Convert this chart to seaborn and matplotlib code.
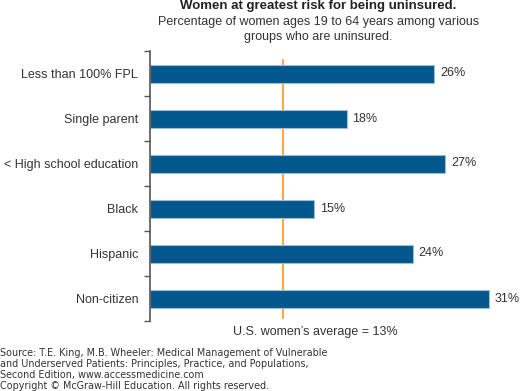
import matplotlib
matplotlib.use("Agg")
import matplotlib.pyplot as plt
import seaborn as sns
import pandas as pd

categories = ["Less than 100% FPL", "Single parent", "< High school education",
              "Black", "Hispanic", "Non-citizen"]
values = [26, 18, 27, 15, 24, 31]
value_labels = ["26%", "18%", "27%", "15%", "24%", "31%"]
avg_position = 12.2
avg_label = "U.S. women\u2019s average = 13%"
title = "Women at greatest risk for being uninsured."
subtitle = "Percentage of women ages 19 to 64 years among various\ngroups who are uninsured."
source = ("Source: T.E. King, M.B. Wheeler: Medical Management of Vulnerable\n"
          "and Underserved Patients: Principles, Practice, and Populations,\n"
          "Second Edition, www.accessmedicine.com\n"
          "Copyright \u00a9 McGraw-Hill Education. All rights reserved.")

sns.set_style("white")
plt.rcParams['font.family'] = ['Liberation Sans', 'DejaVu Sans']

df = pd.DataFrame({"cat": categories, "val": values})

fig = plt.figure(figsize=(5.2, 3.91), dpi=100)
ax = fig.add_axes([150/520, 1-321/391, 361/520, 270/391])

sns.barplot(data=df, x="val", y="cat", color="#02588c", width=0.4,
            edgecolor="#9dbcd6", linewidth=0.8, saturation=1, ax=ax)

ax.bar_label(ax.containers[0], labels=value_labels, padding=4,
             fontsize=9, color="#333333")

ax.set_xlim(0, 33)
ax.set_ylim(5.5, -0.5)
ax.axvline(avg_position, ymin=0.011, ymax=0.967, color="#f5a94a", lw=1.5, zorder=0.5)
ax.text(avg_position + 2.9, -11/270, avg_label, transform=ax.get_xaxis_transform(),
        ha="center", va="center", fontsize=9, color="#333333")

for s in ["top", "right", "bottom"]:
    ax.spines[s].set_visible(False)
ax.spines["left"].set_color("#555555")
ax.spines["left"].set_linewidth(1.2)
ax.set_xlabel("")
ax.set_ylabel("")
ax.set_xticks([])
ax.tick_params(axis="y", which="major", length=0, pad=8.5, labelsize=9,
               labelcolor="#333333")
ax.set_yticks([i - 0.5 for i in range(len(categories) + 1)], minor=True)
ax.tick_params(axis="y", which="minor", left=True, length=4, width=1,
               color="#555555", direction="out")

fig.text(0.612, 1-6/391, title, ha="center", va="center", fontsize=9.5,
         fontweight="bold", color="#222222")
fig.text(0.612, 1-29.5/391, subtitle, ha="center", va="center", fontsize=9,
         color="#333333", linespacing=1.25, multialignment="center")
fig.text(0.0, 1-347.5/391, source, ha="left", va="top", fontsize=6.9,
         family="DejaVu Sans", color="#333333", linespacing=1.15)

fig.savefig("out.png", dpi=100)
